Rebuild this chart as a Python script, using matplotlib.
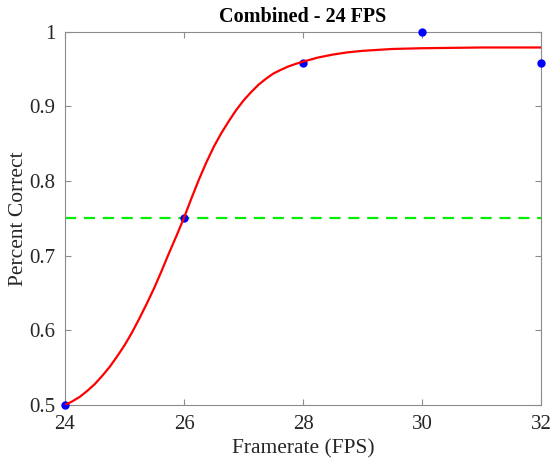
import matplotlib
matplotlib.use('Agg')
import matplotlib.pyplot as plt
import numpy as np

plt.rcParams['font.family'] = ['Liberation Serif', 'DejaVu Serif']

# measured proportion correct at each framerate
fps = [24, 26, 28, 30, 32]
pcorrect = [0.5, 0.75, 0.958, 1.0, 0.958]

# psychometric fit, sampled along the framerate axis
fit_x = [24.0, 24.125, 24.25, 24.375, 24.5, 24.625, 24.75, 24.875,
         25.0, 25.125, 25.25, 25.375, 25.5, 25.625, 25.75, 25.875,
         26.0, 26.125, 26.25, 26.375, 26.5, 26.625, 26.75, 26.875,
         27.0, 27.125, 27.25, 27.375, 27.5, 27.625, 27.75, 27.875,
         28.0, 28.25, 28.5, 28.75, 29.0, 29.5, 30.0, 31.0, 32.0]
fit_y = [0.500, 0.505, 0.511, 0.519, 0.528, 0.539, 0.551, 0.565,
         0.580, 0.597, 0.616, 0.636, 0.657, 0.680, 0.704, 0.727,
         0.751, 0.777, 0.802, 0.825, 0.846, 0.864, 0.880, 0.895,
         0.908, 0.919, 0.929, 0.937, 0.944, 0.949, 0.9535, 0.957,
         0.960, 0.9655, 0.9695, 0.9725, 0.9745, 0.977, 0.978, 0.979, 0.979]

threshold = 0.75

fig = plt.figure(figsize=(5.51, 4.61), dpi=100)
ax = fig.add_axes([0.118, 0.1215, 0.864, 0.8095])

ax.plot(fps, pcorrect, 'o', color='#0000ff', markersize=5, clip_on=False, zorder=3)
ax.plot(fit_x, fit_y, '-', color='#ff0000', linewidth=1.6, zorder=4,
        solid_joinstyle='round')
ax.axhline(threshold, color='#00ee00', linewidth=1.6, linestyle=(0, (5, 3.5)), zorder=2)

ax.set_xlim(24, 32)
ax.set_ylim(0.5, 1)
ax.set_xticks([24, 26, 28, 30, 32])
ax.set_yticks([0.5, 0.6, 0.7, 0.8, 0.9, 1.0])
ax.set_yticklabels(['0.5', '0.6', '0.7', '0.8', '0.9', '1'])

for s in ax.spines.values():
    s.set_color('#8c8c8c')
    s.set_linewidth(0.8)
ax.tick_params(direction='in', top=True, right=True, length=4, width=0.8,
               color='#8c8c8c', labelcolor='#262626', labelsize=15)
ax.tick_params(axis='x', pad=7)
ax.tick_params(axis='y', pad=7)

ax.set_xlabel('Framerate (FPS)', fontsize=15.5, color='#262626', labelpad=4)
ax.set_ylabel('Percent Correct', fontsize=15.5, color='#262626', labelpad=1)
ax.set_title('Combined - 24 FPS', fontsize=14.5, fontweight='bold', color='black', pad=7)

fig.savefig('out.png', dpi=100)
